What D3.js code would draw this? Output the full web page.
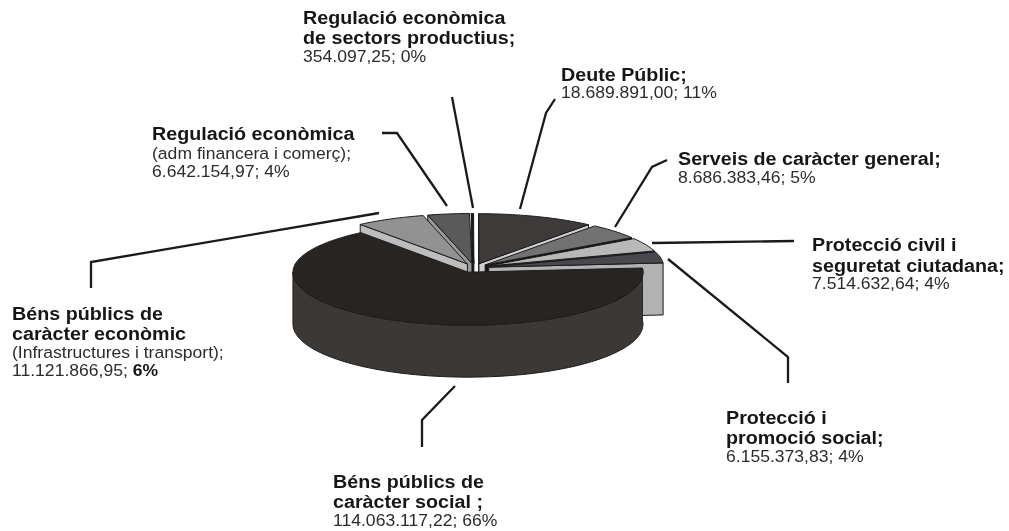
<!DOCTYPE html>
<html><head><meta charset="utf-8">
<script src="https://cdn.jsdelivr.net/npm/d3@7/dist/d3.min.js"></script>
<style>html,body{margin:0;padding:0;background:#fff}svg{display:block;filter:blur(0.35px)}text{font-family:"Liberation Sans",Arial,sans-serif}</style>
</head><body><svg id="c" width="1009" height="531"></svg>
<script>
const categories = ["Béns públics de caràcter social","Béns públics de caràcter econòmic","Regulació econòmica (adm financera i comerç)","Regulació econòmica de sectors productius","Deute Públic","Serveis de caràcter general","Protecció civil i seguretat ciutadana","Protecció i promoció social"];
const values = [114063117.22,11121866.95,6642154.97,354097.25,18689891.00,8686383.46,7514632.64,6155373.83];
const topColors = ["#282422","#929292","#5a5a5a","#151515","#3e3a39","#727272","#b8b8b8","#48484e"];
const faceColors = ["#282422","#bdbdbd","#9a9a9a","#111111","#cfcfcf","#141414","#222222","#b2b2b2"];
const wallColor = "#3b3835";
const drawOrder = [3,2,1,4,5,6,7,0];
const labelBlocks = [
 {x:303,lines:[["b","Regulació econòmica",24],["b","de sectors productius;",44],["r","354.097,25; 0%",62]]},
 {x:152,lines:[["b","Regulació econòmica",140],["r","(adm financera i comerç);",159],["r","6.642.154,97; 4%",177]]},
 {x:561,lines:[["b","Deute Públic;",81],["r","18.689.891,00; 11%",98]]},
 {x:678,lines:[["b","Serveis de caràcter general;",165],["r","8.686.383,46; 5%",183]]},
 {x:812,lines:[["b","Protecció civil i",251],["b","seguretat ciutadana;",272],["r","7.514.632,64; 4%",289]]},
 {x:726,lines:[["b","Protecció i",424],["b","promoció social;",444],["r","6.155.373,83; 4%",462]]},
 {x:12,lines:[["b","Béns públics de",320],["b","caràcter econòmic",340],["r","(Infrastructures i transport);",358],["m","11.121.866,95; ","6%",376]]},
 {x:333,lines:[["b","Béns públics de",488],["b","caràcter social ;",508],["r","114.063.117,22; 66%",526]]}
];
const leaderPaths = [
 [[382,133],[397,133],[447,206]],
 [[452,97],[473,208]],
 [[555,99],[546,113],[520,209]],
 [[667,160],[652,167],[615,227]],
 [[794,241],[652,243]],
 [[668,259],[788,357],[788,383]],
 [[422,447],[422,420],[455,386]],
 [[91,288],[91,262],[379,213]]
];

const svg = d3.select("#c");
const cx=474, cy=268, rx=175, ryBack=50, ryFront=53, depth=52, explode=15, startDeg=85.2;
const rad = d=>d*Math.PI/180;
const arcs = d3.pie().sort(null).value(d=>d).startAngle(rad(startDeg)).endAngle(rad(startDeg)+2*Math.PI)(values);
const line = d3.line();
const ringY = a => (Math.cos(a)>0?ryBack:ryFront)*Math.cos(a);
const rim = (o,a,dz=0)=>[o.x+rx*Math.sin(a), o.y-ringY(a)+dz];
function centre(d){
  const m=(d.startAngle+d.endAngle)/2;
  return {x:cx+explode*Math.sin(m), y:cy-explode*Math.cos(m)*ryFront/rx};
}
const sample=(a,b)=>d3.range(0,1.0001,1/Math.max(2,Math.ceil((b-a)*40))).map(t=>a+(b-a)*t);
const g=svg.append("g").attr("stroke","#1c1c1c").attr("stroke-width",1).attr("stroke-linejoin","round");
drawOrder.forEach(i=>{
  const d=arcs[i], o=centre(d);
  const face=a=>g.append("path").attr("fill",faceColors[i])
    .attr("d",line([[o.x,o.y],rim(o,a),rim(o,a,depth),[o.x,o.y+depth]])+"Z");
  if(Math.sin(d.startAngle)<-0.001) face(d.startAngle);
  if(Math.sin(d.endAngle)>0.001) face(d.endAngle);
  const wa=Math.max(d.startAngle,rad(startDeg)), wb=Math.min(d.endAngle,rad(270));
  if(wb>wa && d.startAngle<rad(270) && Math.cos((wa+wb)/2)<0.2){
    const ts=sample(wa,wb);
    g.append("path").attr("fill",wallColor)
      .attr("d",line(ts.map(a=>rim(o,a)).concat(ts.slice().reverse().map(a=>rim(o,a,depth))))+"Z");
  }
  const pts=[[o.x,o.y]].concat(sample(d.startAngle,d.endAngle).map(a=>rim(o,a)));
  g.append("path").attr("fill",topColors[i]).attr("d",line(pts)+"Z");
});
svg.append("g").attr("fill","none").attr("stroke","#1a1a1a").attr("stroke-width",2.3)
  .selectAll("path").data(leaderPaths).join("path").attr("d",d=>line(d));

const boldStyle={size:18,sx:1.095,fill:"#161616",weight:"bold"}, regStyle={size:16.5,sx:1.065,fill:"#2c2c2c",weight:"normal"};
labelBlocks.forEach(b=>b.lines.forEach(l=>{
  const kind=l[0], st=kind==="b"?boldStyle:regStyle, y=l[l.length-1];
  const t=svg.append("text").attr("transform",`translate(${b.x},${y}) scale(${st.sx},1)`)
    .attr("font-size",st.size).attr("font-weight",st.weight).attr("fill",st.fill);
  t.append("tspan").text(l[1]);
  if(kind==="m") t.append("tspan").attr("font-weight","bold").attr("fill","#161616").text(l[2]);
}));
</script></body></html>
